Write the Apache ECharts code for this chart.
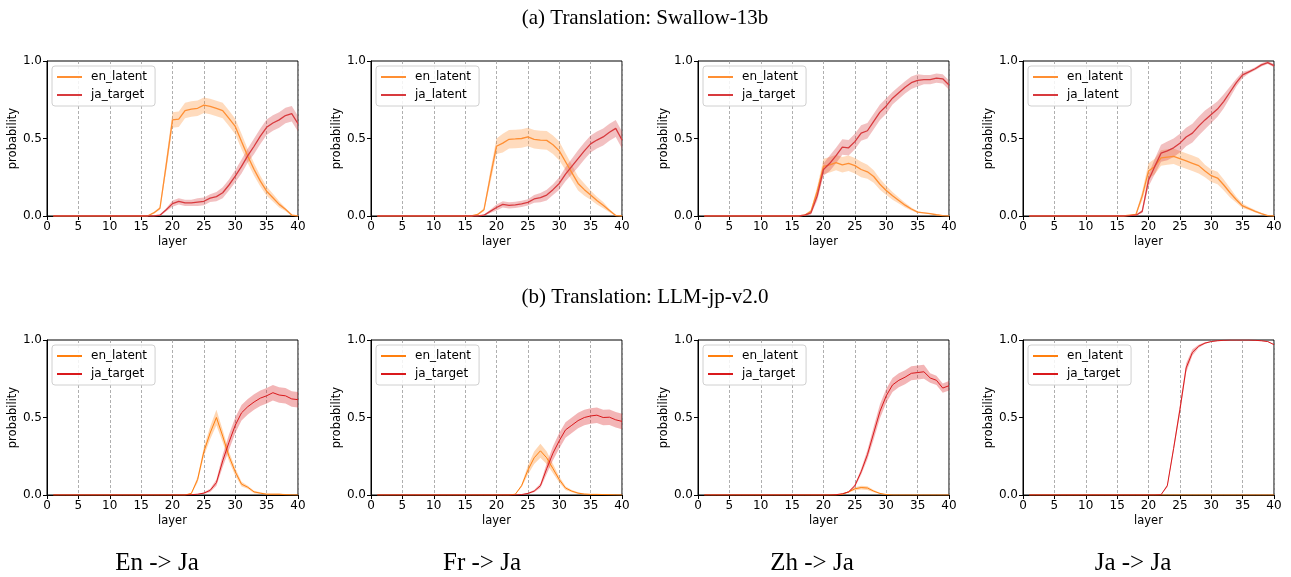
<!DOCTYPE html>
<html><head><meta charset="utf-8">
<script src="https://cdn.jsdelivr.net/npm/echarts@6/dist/echarts.min.js"></script>
<style>html,body{margin:0;padding:0;background:#fff}#c{width:1291px;height:577px}</style>
</head><body><div id="c"></div>
<script>
// ---------- DATA ----------
const layers = [1,2,3,4,5,6,7,8,9,10,11,12,13,14,15,16,17,18,19,20,21,22,23,24,25,26,27,28,29,30,31,32,33,34,35,36,37,38,39,40];
const xTicks = [0,5,10,15,20,25,30,35,40];
const yTicks = [0.0,0.5,1.0];
const rowTitles = ['(a) Translation: Swallow-13b', '(b) Translation: LLM-jp-v2.0'];
const colLabels = ['En -> Ja', 'Fr -> Ja', 'Zh -> Ja', 'Ja -> Ja'];
const enLabels = ['en_latent','en_latent','en_latent','en_latent','en_latent','en_latent','en_latent','en_latent'];
const jaLabels = ['ja_target','ja_latent','ja_target','ja_latent','ja_target','ja_target','ja_target','ja_target'];

// (a) Swallow-13b, En -> Ja
const A1_en   = [0,0,0,0,0,0,0,0,0,0, 0,0,0,0,0,0, 0.02,0.05,0.33,0.62,0.625,0.68,0.69,0.695,0.715,0.707,0.694,0.68,0.63,0.578,0.48,0.385,0.30,0.225,0.16,0.118,0.075,0.043,0.006,0];
const A1_enCi = [0,0,0,0,0,0,0,0,0,0, 0,0,0,0,0,0, 0.005,0.01,0.04,0.05,0.05,0.05,0.05,0.05,0.05,0.05,0.05,0.05,0.05,0.05,0.05,0.045,0.04,0.035,0.03,0.025,0.02,0.01,0.005,0];
const A1_ja   = [0,0,0,0,0,0,0,0,0,0, 0,0,0,0,0,0,0, 0.005,0.04,0.08,0.095,0.085,0.085,0.09,0.095,0.115,0.125,0.15,0.2,0.257,0.32,0.39,0.45,0.515,0.572,0.60,0.62,0.648,0.66,0.595];
const A1_jaCi = [0,0,0,0,0,0,0,0,0,0, 0,0,0,0,0,0,0, 0.005,0.01,0.02,0.02,0.02,0.02,0.025,0.025,0.025,0.03,0.035,0.035,0.04,0.045,0.045,0.05,0.05,0.05,0.05,0.05,0.05,0.05,0.05];
// (a) Fr -> Ja
const A2_en   = [0,0,0,0,0,0,0,0,0,0, 0,0,0,0,0,0, 0.01,0.04,0.25,0.45,0.47,0.495,0.497,0.50,0.51,0.495,0.49,0.488,0.46,0.42,0.35,0.28,0.21,0.17,0.135,0.10,0.07,0.035,0.003,0];
const A2_enCi = [0,0,0,0,0,0,0,0,0,0, 0,0,0,0,0,0, 0.005,0.01,0.04,0.05,0.06,0.06,0.06,0.06,0.06,0.06,0.06,0.06,0.06,0.06,0.055,0.05,0.045,0.04,0.03,0.025,0.02,0.01,0.005,0];
const A2_ja   = [0,0,0,0,0,0,0,0,0,0, 0,0,0,0,0,0,0, 0.005,0.03,0.055,0.075,0.068,0.072,0.078,0.088,0.11,0.118,0.135,0.17,0.21,0.27,0.32,0.37,0.42,0.465,0.49,0.51,0.54,0.565,0.49];
const A2_jaCi = [0,0,0,0,0,0,0,0,0,0, 0,0,0,0,0,0,0, 0.005,0.01,0.02,0.02,0.02,0.02,0.02,0.02,0.025,0.03,0.035,0.035,0.04,0.045,0.05,0.055,0.055,0.055,0.055,0.055,0.055,0.055,0.055];
// (a) Zh -> Ja
const A3_en   = [0,0,0,0,0,0,0,0,0,0, 0,0,0,0,0,0, 0.005,0.03,0.16,0.32,0.33,0.345,0.33,0.34,0.325,0.30,0.285,0.255,0.205,0.165,0.13,0.10,0.07,0.045,0.025,0.02,0.015,0.008,0.002,0];
const A3_enCi = [0,0,0,0,0,0,0,0,0,0, 0,0,0,0,0,0, 0.005,0.01,0.03,0.05,0.05,0.05,0.05,0.05,0.05,0.05,0.045,0.04,0.035,0.03,0.025,0.02,0.015,0.01,0.005,0.003,0.003,0.003,0.003,0];
const A3_ja   = [0,0,0,0,0,0,0,0,0,0, 0,0,0,0,0,0, 0.005,0.02,0.13,0.30,0.34,0.39,0.445,0.44,0.48,0.535,0.55,0.61,0.67,0.71,0.76,0.795,0.83,0.86,0.875,0.88,0.88,0.89,0.885,0.845];
const A3_jaCi = [0,0,0,0,0,0,0,0,0,0, 0,0,0,0,0,0, 0.005,0.01,0.03,0.04,0.05,0.05,0.05,0.05,0.05,0.05,0.05,0.05,0.05,0.05,0.04,0.04,0.04,0.04,0.04,0.03,0.03,0.03,0.03,0.03];
// (a) Ja -> Ja
const A4_en   = [0,0,0,0,0,0,0,0,0,0, 0,0,0,0,0,0, 0.005,0.01,0.13,0.29,0.32,0.375,0.38,0.385,0.37,0.355,0.34,0.325,0.29,0.26,0.245,0.20,0.15,0.105,0.065,0.048,0.03,0.015,0.002,0];
const A4_enCi = [0,0,0,0,0,0,0,0,0,0, 0,0,0,0,0,0,0, 0.005,0.03,0.05,0.05,0.05,0.05,0.05,0.05,0.05,0.05,0.05,0.04,0.04,0.04,0.035,0.03,0.02,0.015,0.01,0.008,0.005,0.002,0];
const A4_ja   = [0,0,0,0,0,0,0,0,0,0, 0,0,0,0,0,0, 0.002,0.005,0.03,0.23,0.32,0.405,0.42,0.44,0.47,0.51,0.535,0.58,0.62,0.655,0.69,0.74,0.80,0.86,0.91,0.93,0.95,0.975,0.99,0.97];
const A4_jaCi = [0,0,0,0,0,0,0,0,0,0, 0,0,0,0,0,0,0,0, 0.01,0.04,0.05,0.055,0.06,0.06,0.06,0.06,0.06,0.06,0.06,0.055,0.05,0.045,0.035,0.025,0.02,0.01,0.01,0.01,0.01,0.01];
// (b) LLM-jp-v2.0, En -> Ja
const B1_en   = [0,0,0,0,0,0,0,0,0,0, 0,0,0,0,0,0,0,0,0,0, 0,0, 0.01,0.10,0.28,0.40,0.50,0.38,0.25,0.15,0.07,0.05,0.02,0.012,0.005,0.005,0.005,0.002,0.001,0];
const B1_enCi = [0,0,0,0,0,0,0,0,0,0, 0,0,0,0,0,0,0,0,0,0, 0,0, 0.005,0.02,0.03,0.04,0.05,0.04,0.03,0.025,0.015,0.01,0.008,0.005,0.004,0.004,0.004,0.004,0,0];
const B1_ja   = [0,0,0,0,0,0,0,0,0,0, 0,0,0,0,0,0,0,0,0,0, 0,0, 0.002,0.005,0.012,0.03,0.08,0.22,0.34,0.45,0.53,0.57,0.60,0.625,0.64,0.66,0.645,0.64,0.62,0.615];
const B1_jaCi = [0,0,0,0,0,0,0,0,0,0, 0,0,0,0,0,0,0,0,0,0, 0,0,0,0, 0.005,0.01,0.02,0.04,0.05,0.05,0.05,0.05,0.05,0.05,0.05,0.05,0.05,0.05,0.05,0.05];
// (b) Fr -> Ja
const B2_en   = [0,0,0,0,0,0,0,0,0,0, 0,0,0,0,0,0,0,0,0,0, 0,0, 0.005,0.06,0.16,0.24,0.285,0.24,0.17,0.10,0.045,0.025,0.012,0.006,0.004,0.004,0.003,0.002,0.001,0];
const B2_enCi = [0,0,0,0,0,0,0,0,0,0, 0,0,0,0,0,0,0,0,0,0, 0,0,0, 0.01,0.03,0.04,0.045,0.04,0.03,0.02,0.012,0.008,0.005,0.003,0.003,0.003,0.003,0.003,0,0];
const B2_ja   = [0,0,0,0,0,0,0,0,0,0, 0,0,0,0,0,0,0,0,0,0, 0,0,0, 0.003,0.01,0.025,0.06,0.17,0.27,0.35,0.42,0.45,0.48,0.50,0.51,0.515,0.50,0.502,0.485,0.475];
const B2_jaCi = [0,0,0,0,0,0,0,0,0,0, 0,0,0,0,0,0,0,0,0,0, 0,0,0,0, 0.005,0.008,0.015,0.035,0.045,0.05,0.05,0.05,0.05,0.05,0.05,0.05,0.05,0.05,0.05,0.05];
// (b) Zh -> Ja
const B3_en   = [0,0,0,0,0,0,0,0,0,0, 0,0,0,0,0,0,0,0,0,0, 0,0, 0.005,0.02,0.04,0.048,0.045,0.025,0.01,0.003,0,0,0,0,0,0,0,0,0,0];
const B3_enCi = [0,0,0,0,0,0,0,0,0,0, 0,0,0,0,0,0,0,0,0,0, 0,0,0, 0.005,0.01,0.012,0.012,0.008,0.004,0,0,0,0,0,0,0,0,0,0,0];
const B3_ja   = [0,0,0,0,0,0,0,0,0,0, 0,0,0,0,0,0,0,0,0,0, 0, 0.002,0.008,0.02,0.06,0.15,0.26,0.40,0.54,0.64,0.71,0.74,0.76,0.785,0.79,0.795,0.755,0.74,0.69,0.705];
const B3_jaCi = [0,0,0,0,0,0,0,0,0,0, 0,0,0,0,0,0,0,0,0,0, 0,0,0, 0.005,0.01,0.02,0.03,0.04,0.045,0.045,0.045,0.045,0.045,0.045,0.045,0.045,0.03,0.03,0.03,0.03];
// (b) Ja -> Ja
const B4_en   = [0,0,0,0,0,0,0,0,0,0, 0,0,0,0,0,0,0,0,0,0, 0,0,0,0,0,0,0,0,0,0, 0,0,0,0,0,0,0,0,0,0];
const B4_enCi = [0,0,0,0,0,0,0,0,0,0, 0,0,0,0,0,0,0,0,0,0, 0,0,0,0,0,0,0,0,0,0, 0,0,0,0,0,0,0,0,0,0];
const B4_ja   = [0,0,0,0,0,0,0,0,0,0, 0,0,0,0,0,0,0,0,0,0, 0, 0.002,0.06,0.30,0.55,0.82,0.92,0.96,0.98,0.99,0.995,0.998,1.0,1.0,1.0,1.0,0.998,0.995,0.99,0.97];
const B4_jaCi = [0,0,0,0,0,0,0,0,0,0, 0,0,0,0,0,0,0,0,0,0, 0,0, 0.01,0.02,0.03,0.03,0.02,0.01,0.005,0.002,0.002,0.002,0.002,0.002,0.002,0.002,0.002,0.002,0.002,0.002];

// ---------- CHART ----------
const panels = [
  [A1_en,A1_enCi,A1_ja,A1_jaCi],[A2_en,A2_enCi,A2_ja,A2_jaCi],[A3_en,A3_enCi,A3_ja,A3_jaCi],[A4_en,A4_enCi,A4_ja,A4_jaCi],
  [B1_en,B1_enCi,B1_ja,B1_jaCi],[B2_en,B2_enCi,B2_ja,B2_jaCi],[B3_en,B3_enCi,B3_ja,B3_jaCi],[B4_en,B4_enCi,B4_ja,B4_jaCi]
];
const colLeft = [47, 371, 698, 1023];
const rowTop = [61, 340];
const W = 251, H = 155;
const rowStyle = [
  {en:'#ff8f33', ja:'#d83a3e', w:1.3},
  {en:'#ff7f0e', ja:'#d9191c', w:1.0}
];
const SANS = 'DejaVu Sans';
const grids = [], xAxes = [], yAxes = [], series = [], legends = [];

// confidence band drawn as one polygon through the axis scales
function bandSeries(k, vals, ci, color) {
  const pts = layers.map((x, i) => [x, Math.max(0, vals[i] - ci[i]), Math.min(1, vals[i] + ci[i])]);
  return {
    type:'custom', xAxisIndex:k, yAxisIndex:k, silent:true, z:2,
    data: pts, encode:{x:0, y:[1, 2]},
    renderItem: function (params, api) {
      if (params.dataIndex !== 0) return null;
      const upper = pts.map(p => api.coord([p[0], p[2]]));
      const lower = pts.map(p => api.coord([p[0], p[1]])).reverse();
      return {type:'polygon', shape:{points: upper.concat(lower)},
        style:{fill: color, opacity: 0.32}};
    }
  };
}

panels.forEach((p, k) => {
  const r = Math.floor(k / 4), c = k % 4;
  const st = rowStyle[r];
  grids.push({left:colLeft[c], top:rowTop[r], width:W, height:H, show:true,
    borderColor:'#000', borderWidth:1, backgroundColor:'transparent', containLabel:false});
  xAxes.push({gridIndex:k, type:'value', min:0, max:40, interval:5,
    name:'layer', nameLocation:'middle', nameGap:20,
    nameTextStyle:{fontFamily:SANS, fontSize:11.5, color:'#000'},
    axisLine:{show:true, onZero:false, lineStyle:{color:'#000', width:1}},
    axisTick:{show:true, length:4, lineStyle:{color:'#000', width:1}},
    axisLabel:{fontFamily:SANS, fontSize:12, color:'#000', margin:5, formatter: v => String(v)},
    splitLine:{show:true, lineStyle:{type:[3,2], color:'#9a9a9a', width:0.8}}});
  yAxes.push({gridIndex:k, type:'value', min:0, max:1, interval:0.5,
    name:'probability', nameLocation:'middle', nameGap:25,
    nameTextStyle:{fontFamily:SANS, fontSize:11.5, color:'#000'},
    axisLine:{show:true, lineStyle:{color:'#000', width:1}},
    axisTick:{show:true, length:4, lineStyle:{color:'#000', width:1}},
    axisLabel:{fontFamily:SANS, fontSize:12, color:'#000', margin:5, formatter: v => v.toFixed(1)},
    splitLine:{show:false}});
  const enName = enLabels[k] + '#' + k, jaName = jaLabels[k] + '#' + k;
  series.push(bandSeries(k, p[0], p[1], st.en));
  series.push({type:'line', name:enName, xAxisIndex:k, yAxisIndex:k, symbol:'none', color:st.en,
    data: layers.map((x, i) => [x, p[0][i]]), lineStyle:{color:st.en, width:st.w}, z:3});
  series.push(bandSeries(k, p[2], p[3], st.ja));
  series.push({type:'line', name:jaName, xAxisIndex:k, yAxisIndex:k, symbol:'none', color:st.ja,
    data: layers.map((x, i) => [x, p[2][i]]), lineStyle:{color:st.ja, width:st.w}, z:3});
  legends.push({left:colLeft[c] + 5, top:rowTop[r] + 5, orient:'vertical',
    data:[enName, jaName], formatter: n => n.split('#')[0],
    icon:'rect', itemWidth:25, itemHeight:2, itemGap:6, padding:[5, 8, 5, 5],
    borderColor:'#d0d0d0', borderWidth:1, borderRadius:3, backgroundColor:'rgba(255,255,255,0.85)',
    selectedMode:false,
    textStyle:{fontFamily:SANS, fontSize:12, color:'#000', padding:[0, 0, 0, 4]}});
});

const graphics = [];
const titleY = [18, 297];
rowTitles.forEach((t, i) => graphics.push({type:'text', x:645, y:titleY[i],
  style:{text:t, font:'21px "Liberation Serif"', fill:'#000', align:'center', verticalAlign:'middle'}}));
const labelX = [157, 482, 812, 1133];
colLabels.forEach((t, i) => graphics.push({type:'text', x:labelX[i], y:563,
  style:{text:t, font:'25px "Liberation Serif"', fill:'#000', align:'center', verticalAlign:'middle'}}));

const chart = echarts.init(document.getElementById('c'), null, {renderer:'canvas'});
chart.setOption({
  animation:false,
  backgroundColor:'#fff',
  grid:grids, xAxis:xAxes, yAxis:yAxes, series:series, legend:legends, graphic:graphics
});
</script></body></html>
